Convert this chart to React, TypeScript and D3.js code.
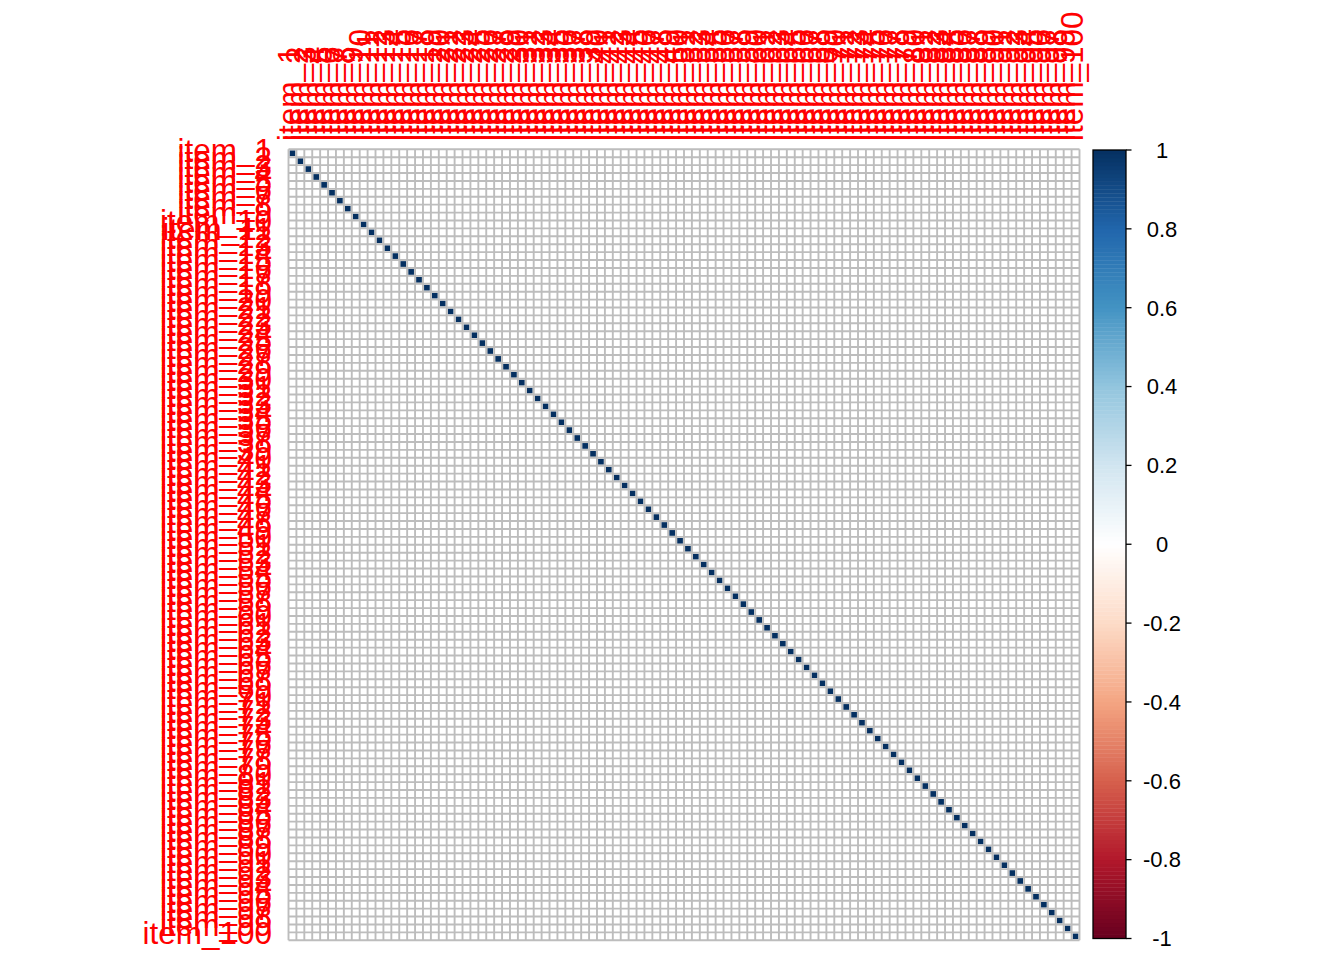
import React, { useEffect, useRef } from 'react';
import * as d3 from 'd3';

// 100 items, correlation matrix: 1 on the diagonal, ~0 elsewhere
const items: string[] = Array.from({ length: 100 }, (_, i) => `item_${i + 1}`);
const diagonalValue = 1;
const offDiagonalValue = 0;

// corrplot's default RdBu ramp
const rampColors = ['#67001F', '#B2182B', '#D6604D', '#F4A582', '#FDDBC7', '#FFFFFF',
    '#D1E5F0', '#92C5DE', '#4393C3', '#2166AC', '#053061'];
const legendTicks = [1, 0.8, 0.6, 0.4, 0.2, 0, -0.2, -0.4, -0.6, -0.8, -1];

const App = () => {
    const svgRef = useRef<SVGSVGElement>(null);

    useEffect(() => {
        const svg = d3.select(svgRef.current);
        svg.selectAll('*').remove();

        const width = 1344;
        const height = 960;
        const grid = { left: 288.5, top: 149.3, size: 791 };
        const font = 'Liberation Sans, Arial, Helvetica, sans-serif';
        const labelSize = 31.5;

        const matrix = items.map((_, r) => items.map((_, c) => (r === c ? diagonalValue : offDiagonalValue)));

        const x = d3.scaleBand().domain(items).range([grid.left, grid.left + grid.size]);
        const y = d3.scaleBand().domain(items).range([grid.top, grid.top + grid.size]);
        const color = d3.scaleLinear<string>()
            .domain(d3.range(rampColors.length).map(i => -1 + (2 * i) / (rampColors.length - 1)))
            .range(rampColors)
            .interpolate(d3.interpolateRgb);

        const cells = matrix.flatMap((row, r) => row.map((v, c) => ({ r: items[r], c: items[c], v })));

        // background
        svg.append('rect')
            .attr('x', grid.left).attr('y', grid.top)
            .attr('width', grid.size).attr('height', grid.size)
            .attr('fill', 'white');

        // squares sized by |r|
        const inner = x.bandwidth() - 2.2;
        svg.append('g')
            .selectAll('rect')
            .data(cells.filter(d => Math.abs(d.v) > 0.01))
            .enter()
            .append('rect')
            .attr('x', d => x(d.c)! + x.bandwidth() / 2 - (inner * Math.sqrt(Math.abs(d.v))) / 2)
            .attr('y', d => y(d.r)! + y.bandwidth() / 2 - (inner * Math.sqrt(Math.abs(d.v))) / 2)
            .attr('width', d => inner * Math.sqrt(Math.abs(d.v)))
            .attr('height', d => inner * Math.sqrt(Math.abs(d.v)))
            .attr('fill', d => color(d.v));

        // grid lines
        const gridG = svg.append('g').attr('stroke', '#BDBDBD').attr('stroke-width', 1.9);
        const edges = [...items.map(d => x(d)!), grid.left + grid.size];
        edges.forEach(e => {
            gridG.append('line')
                .attr('x1', e).attr('x2', e)
                .attr('y1', grid.top).attr('y2', grid.top + grid.size);
        });
        const hEdges = [...items.map(d => y(d)!), grid.top + grid.size];
        hEdges.forEach(e => {
            gridG.append('line')
                .attr('y1', e).attr('y2', e)
                .attr('x1', grid.left).attr('x2', grid.left + grid.size);
        });

        // row labels
        svg.append('g')
            .selectAll('text')
            .data(items)
            .enter()
            .append('text')
            .attr('x', 272)
            .attr('y', d => y(d)! + y.bandwidth() / 2 + 7.5)
            .attr('text-anchor', 'end')
            .attr('font-family', font)
            .attr('font-size', labelSize)
            .attr('fill', '#FF0000')
            .text(d => d);

        // column labels
        svg.append('g')
            .selectAll('text')
            .data(items)
            .enter()
            .append('text')
            .attr('transform', d => `translate(${x(d)! + x.bandwidth() / 2},141) rotate(-90)`)
            .attr('x', 0)
            .attr('y', 7.5)
            .attr('text-anchor', 'start')
            .attr('font-family', font)
            .attr('font-size', labelSize)
            .attr('fill', '#FF0000')
            .text(d => d);

        // colour legend
        const leg = { left: 1093, right: 1126, top: 150, bottom: 938.5 };
        const ly = d3.scaleLinear().domain([-1, 1]).range([leg.bottom, leg.top]);
        const steps = d3.range(200).map(i => -1 + (i + 0.5) / 100);
        svg.append('g')
            .selectAll('rect')
            .data(steps)
            .enter()
            .append('rect')
            .attr('x', leg.left)
            .attr('width', leg.right - leg.left)
            .attr('y', d => ly(d + 0.005))
            .attr('height', Math.abs(ly(0.01) - ly(0)) + 0.4)
            .attr('fill', d => color(d));
        svg.append('rect')
            .attr('x', leg.left)
            .attr('y', leg.top)
            .attr('width', leg.right - leg.left)
            .attr('height', leg.bottom - leg.top)
            .attr('fill', 'none')
            .attr('stroke', 'black')
            .attr('stroke-width', 1.3);

        const axis = svg.append('g');
        legendTicks.forEach(t => {
            axis.append('line')
                .attr('x1', leg.right).attr('x2', leg.right + 5.5)
                .attr('y1', ly(t)).attr('y2', ly(t))
                .attr('stroke', 'black').attr('stroke-width', 1.3);
            axis.append('text')
                .attr('x', 1162)
                .attr('y', ly(t) + 7.8)
                .attr('text-anchor', 'middle')
                .attr('font-family', font)
                .attr('font-size', 22)
                .attr('fill', 'black')
                .text(String(t));
        });

        svg.attr('width', width).attr('height', height);
    }, []);

    return (
        <svg
            ref={svgRef}
            width={1344}
            height={960}
            style={{ position: 'absolute', left: 0, top: 0, background: 'white' }}
        ></svg>
    );
};

export default App;
